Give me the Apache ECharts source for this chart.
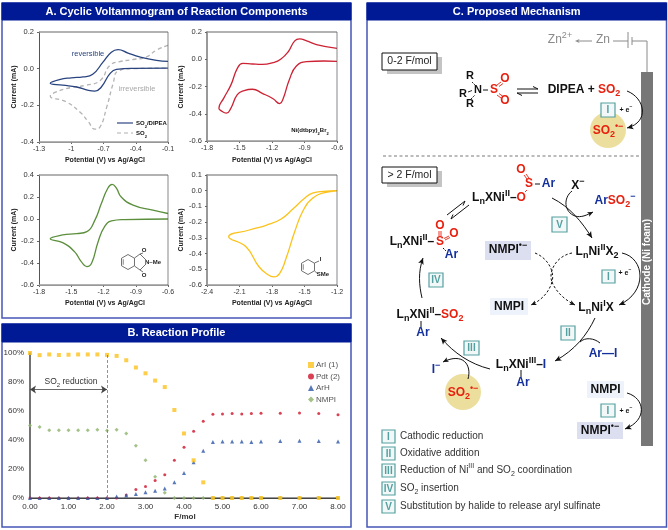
<!DOCTYPE html>
<html><head><meta charset="utf-8">
<style>html,body{margin:0;padding:0;background:#fff}#c{width:668px;height:530px}</style>
<script src="https://cdn.jsdelivr.net/npm/echarts@6/dist/echarts.min.js"></script>
</head><body><div id="c"></div>
<script>
// ---------- data ----------
const so2Dipea = [[-0.1,0.04],[-0.208,0.045],[-0.364,0.064],[-0.472,0.085],[-0.565,0.104],[-0.627,0.09],[-0.705,0.036],[-0.8,-0.03],[-0.89,-0.045],[-1.0,-0.05],[-1.11,-0.06],[-1.195,-0.08],[-1.08,-0.09],[-0.95,-0.1],[-0.84,-0.118],[-0.78,-0.122],[-0.72,-0.1],[-0.64,-0.027],[-0.58,-0.004],[-0.425,0.002],[-0.1,0.003]];
const so2Only = [[-0.1,0.127],[-0.21,0.1],[-0.3,0.064],[-0.425,0.05],[-0.55,0.038],[-0.64,0.018],[-0.73,-0.064],[-0.86,-0.09],[-1.01,-0.104],[-1.14,-0.127],[-1.195,-0.15],[-1.05,-0.18],[-0.92,-0.236],[-0.84,-0.29],[-0.78,-0.33],[-0.735,-0.32],[-0.67,-0.21],[-0.61,-0.08],[-0.565,-0.013],[-0.425,0],[-0.1,0.003]];
const niCurve = [[-0.6,0.08],[-0.79,0.108],[-0.88,0.135],[-0.945,0.149],[-0.99,0.135],[-1.05,0.055],[-1.12,0],[-1.19,-0.025],[-1.29,-0.038],[-1.38,-0.035],[-1.47,-0.03],[-1.52,-0.067],[-1.58,-0.19],[-1.645,-0.285],[-1.69,-0.36],[-1.675,-0.375],[-1.62,-0.396],[-1.58,-0.36],[-1.52,-0.26],[-1.457,-0.23],[-1.38,-0.22],[-1.29,-0.25],[-1.19,-0.29],[-1.13,-0.325],[-1.1,-0.295],[-1.04,-0.15],[-0.975,-0.05],[-0.88,-0.018],[-0.72,-0.013],[-0.6,-0.015]];
const nmpiCurve = [[-0.6,0.05],[-0.74,0.08],[-0.925,0.127],[-1.035,0.2],[-1.08,0.28],[-1.12,0.315],[-1.16,0.28],[-1.22,0.14],[-1.28,-0.01],[-1.355,-0.115],[-1.45,-0.133],[-1.58,-0.145],[-1.695,-0.18],[-1.58,-0.215],[-1.47,-0.297],[-1.405,-0.39],[-1.355,-0.433],[-1.31,-0.4],[-1.25,-0.206],[-1.19,-0.07],[-1.125,-0.018],[-1.01,-0.006],[-0.6,0]];
const arylCurve = [[-1.2,0],[-1.325,-0.004],[-1.42,-0.013],[-1.51,-0.055],[-1.6,-0.112],[-1.715,-0.18],[-1.855,-0.22],[-2.01,-0.25],[-2.2,-0.293],[-2.04,-0.357],[-1.92,-0.484],[-1.84,-0.533],[-1.785,-0.548],[-1.73,-0.527],[-1.67,-0.43],[-1.59,-0.26],[-1.51,-0.123],[-1.42,-0.045],[-1.325,-0.013],[-1.2,-0.002]];

const xTicksA1 = [-1.3,-1,-0.7,-0.4,-0.1];
const xTicksA2 = [-1.8,-1.5,-1.2,-0.9,-0.6];
const xTicksA4 = [-2.4,-2.1,-1.8,-1.5,-1.2];
const yTicksA1 = [-0.4,-0.2,0,0.2];
const yTicksA2 = [-0.6,-0.4,-0.2,0,0.2];
const yTicksA3 = [-0.6,-0.4,-0.2,0,0.2,0.4];
const yTicksA4 = [-0.6,-0.5,-0.4,-0.3,-0.2,-0.1,0,0.1];

const fMol = [0,0.25,0.5,0.75,1,1.25,1.5,1.75,2,2.25,2.5,2.75,3,3.25,3.5,3.75,4,4.25,4.5,4.75,5,5.25,5.5,5.75,6,6.5,7,7.5,8];
const arI  = [100,98.5,99,98.6,98.8,99,99,99,98.7,98,95,90,86,81,76.5,60.7,44.5,26,10.8,0,0,0,0,0,0,0,0,0,0];
const pdt  = [0,0,0,0,0,0,0,0,0,0,2,5.8,8,12,16,26,35,46,53,57.7,58,58.2,58,58.2,58.4,58.4,58.6,58.2,57.5];
const arH  = [0,0,0,0,0,0,0,0,0,1,1.8,2.8,4,5,6.5,10.9,17.3,24.7,32.6,38.6,39,39,39,38.6,39,39.3,39.5,39.3,39];
const nmpi = [50,49,46.8,46.8,46.8,46.8,46.8,47,46.5,47,44.5,36,26,14.7,3.7,0,0,0,0,0,0,0,0,0,0,0,0,0,0];
const so2Window = 2;
const arrowLevel = 74.8;

// ---------- helpers ----------
const FONT = '"Liberation Sans", Arial, sans-serif';
const NAVY='#001a96', EDGE='#4657b8', TEAL='#54a0a0', RED='#e8200f', BLUE='#14309c';
const G = [];
function rich(fs, weight){
  const r={}; const cols={k:'#111',r:RED,b:BLUE,g:'#8a8a8a',d:'#333'};
  for(const c in cols){
    const base={fill:cols[c],fontFamily:FONT,fontWeight:weight};
    r[c]=Object.assign({},base,{fontSize:fs,lineHeight:fs+5});
    r[c+'s']=Object.assign({},base,{fontSize:Math.round(fs*0.72),verticalAlign:'bottom',lineHeight:fs+5});
    r[c+'p']=Object.assign({},base,{fontSize:Math.round(fs*0.72),verticalAlign:'top',lineHeight:fs+5});
  }
  return r;
}
function T(x,y,text,o){
  o=o||{};
  G.push({type:'text',x:x,y:y,rotation:o.rot||0,z:o.z||20,style:{text:text,fontFamily:FONT,fontSize:o.fs||9,fontWeight:o.w||'normal',fill:o.c||'#222',align:o.a||'center',verticalAlign:'middle',rich:o.rich}});
}
function C(x,y,text,fs,o){ o=Object.assign({fs:fs||12,w:'bold',rich:rich(fs||12,(o&&o.w)||'bold')},o||{}); T(x,y,text,o); }
function R(x,y,w,h,fill,stroke,lw,z){ G.push({type:'rect',z:z||5,shape:{x:x,y:y,width:w,height:h},style:{fill:fill,stroke:stroke||'none',lineWidth:lw||0}}); }
function L(pts,o){ o=o||{}; G.push({type:'polyline',z:o.z||10,shape:{points:pts},style:{fill:'none',stroke:o.c||'#111',lineWidth:o.lw||1,lineDash:o.dash}}); }
function head(tip,from,c,s){
  s=s||6; const a=Math.atan2(tip[1]-from[1],tip[0]-from[0]);
  const p=(d,ang)=>[tip[0]+d*Math.cos(a+ang),tip[1]+d*Math.sin(a+ang)];
  G.push({type:'polygon',z:12,shape:{points:[tip,p(s,Math.PI-0.42),p(s*0.7,Math.PI),p(s,Math.PI+0.42)]},style:{fill:c||'#111',stroke:'none'}});
}
function B(p0,c1,c2,p1,o){ o=o||{};
  G.push({type:'bezierCurve',z:11,shape:{x1:p0[0],y1:p0[1],cpx1:c1[0],cpy1:c1[1],cpx2:c2[0],cpy2:c2[1],x2:p1[0],y2:p1[1]},style:{fill:'none',stroke:o.c||'#111',lineWidth:o.lw||1,lineDash:o.dash}});
  if(o.arrow!==false) head(p1,c2,o.c,o.s);
}
function numeral(x,y,w,h,t){ R(x,y,w,h,'#f2f8f8',TEAL,1.2,14); T(x+w/2,y+h/2+0.5,t,{fs:10,w:'bold',c:TEAL}); }
function panel(x,y,w,h,title,hh){
  R(x,y,w,h,'none',EDGE,1.5,1);
  R(x,y,w,hh||17,NAVY,NAVY,1,2);
  T(x+w/2,y+9,title,{fs:11,w:'bold',c:'#fff'});
}
function shadowBox(x,y,w,h,t){ R(x+5,y+4,w,h,'#c4c4c4',null,0,6); R(x,y,w,h,'#fff','#111',1,7); T(x+w/2,y+h/2,t,{fs:10.5,c:'#222'}); }

// ---------- panels ----------
panel(2,3,349,315,'A. Cyclic Voltammogram of Reaction Components');
panel(2,324,349,203,'B. Reaction Profile',18);
panel(367,3,299.5,524,'C. Proposed Mechanism');

// ---------- A labels ----------
const AX='Potential (V) vs Ag/AgCl';
[[105,160],[272,160],[105,303],[272,303]].forEach(p=>T(p[0],p[1],AX,{fs:7,w:'bold',c:'#222'}));
[[14,87],[181,87],[14,230],[181,230]].forEach(p=>T(p[0],p[1],'Current (mA)',{fs:7,w:'bold',c:'#222',rot:Math.PI/2}));
T(88,54,'reversible',{fs:7.5,c:'#2a4480'});
T(137,89,'irreversible',{fs:7.5,c:'#a8a8a8'});
L([[117,123],[133,123]],{c:'#2a4480',lw:1.2});
L([[117,133],[133,133]],{c:'#b0b0b0',lw:1.2,dash:[4,3]});
C(136,123,'{k|SO}{ks|2}{k|/DIPEA}',6,{a:'left'});
C(136,133,'{k|SO}{ks|2}',6,{a:'left'});
C(310,130,'{k|Ni(dtbpy)}{ks|2}{k|Br}{ks|2}',6);

// phthalimide sketch
function ring(cx,cy,r,start){const p=[];for(let i=0;i<6;i++){const a=start+i*Math.PI/3;p.push([cx+r*Math.cos(a),cy+r*Math.sin(a)]);}p.push(p[0]);return p;}
L(ring(128,262,7.5,Math.PI/6),{lw:0.7,c:'#333'});
L(ring(128,262,5.5,Math.PI/6).slice(2,4),{lw:0.6,c:'#333'});
L([[134.5,258],[140,254],[146,260]],{lw:0.7,c:'#333'});
L([[134.5,266],[140,270],[146,264]],{lw:0.7,c:'#333'});
L([[140,254],[143,253]],{lw:0.7,c:'#333'});
L([[140,270],[143,272]],{lw:0.7,c:'#333'});
T(144,250,'O',{fs:6,w:'bold',c:'#222'});
T(144,275,'O',{fs:6,w:'bold',c:'#222'});
T(153,262,'N\u2013Me',{fs:6,w:'bold',c:'#222'});
// aryl iodide sketch
L(ring(308,267,7.5,Math.PI/6),{lw:0.7,c:'#333'});
L(ring(308,267,5.5,Math.PI/6).slice(2,4),{lw:0.6,c:'#333'});
L([[314.5,263],[319,261]],{lw:0.7,c:'#333'});
L([[314.5,271],[318,274]],{lw:0.7,c:'#333'});
T(320.5,259,'I',{fs:6,w:'bold',c:'#222'});
T(323,274,'SMe',{fs:6,w:'bold',c:'#222'});

// ---------- B labels ----------
T(185,517,'F/mol',{fs:8,w:'bold',c:'#333'});
C(71,382,'{d|SO}{ds|2}{d| reduction}',8.5,{w:'normal'});

// ---------- C: electrode ----------
R(641,72,12,374,'#777');
T(647,262,'Cathode (Ni foam)',{fs:10,w:'bold',c:'#fff',rot:Math.PI/2});
C(560,40,'{g|Zn}{gp|2+}',12,{w:'normal'});
L([[592,41],[579,41]],{c:'#8a8a8a'}); head([575,41],[592,41],'#8a8a8a',5);
T(603,40,'Zn',{fs:12,c:'#8a8a8a'});
L([[613,41],[628,41]],{c:'#8a8a8a'});
L([[628,32],[628,48]],{c:'#8a8a8a'});
L([[632,37],[632,45]],{c:'#8a8a8a'});
L([[632,41],[647,41],[647,72]],{c:'#8a8a8a'});
shadowBox(382,53,55,17,'0-2 F/mol');
shadowBox(382,167,55,16,'> 2 F/mol');
L([[383,156],[641,156]],{c:'#555',lw:0.8,dash:[3,2.5]});

// sulfamoyl adduct
const BF=12;
function bt(x,y,t,c){T(x,y,t,{fs:BF,w:'bold',c:c});}
T(470,76,'R',{fs:11,w:'bold',c:'#111'});T(463,94,'R',{fs:11,w:'bold',c:'#111'});T(470,104,'R',{fs:11,w:'bold',c:'#111'});
T(478,90,'N',{fs:11,w:'bold',c:'#111'});
L([[472,82],[475,85]],{lw:0.9,dash:[2,1]});L([[468,92],[472,90.5]],{lw:0.9});L([[471,99],[475,95]],{lw:0.9,dash:[2,1]});
L([[483,90],[488,90]],{lw:1});
bt(494,90,'S',RED);bt(505,79,'O',RED);bt(505,101,'O',RED);
L([[497,85],[501,82]],{c:RED,lw:0.9});L([[499,86.5],[503,83.5]],{c:RED,lw:0.9});
L([[497,95],[501,98]],{c:RED,lw:0.9});L([[499,93.5],[503,96.5]],{c:RED,lw:0.9});
L([[517,89],[538,89],[533,86.5]],{lw:1});L([[538,93],[517,93],[522,95.5]],{lw:1});
C(584,90,'{k|DIPEA + }{r|SO}{rs|2}',12);
B([627,91],[645,98],[650,122],[627,128],{s:7});
numeral(601,103,14,14,'I');
C(626,110,'{k|+ e}{kp|\u2212}',7);
G.push({type:'circle',z:4,shape:{cx:608,cy:130,r:18},style:{fill:'#ecdf9e'}});
C(608,131,'{r|SO}{rs|2}{rp|\u2022\u2212}',12);

// top catalytic part
C(499,198,'{k|L}{ks|n}{k|XNi}{kp|II}{k|\u2013}{r|O}',12);
bt(529,184,'S',RED);bt(521,170,'O',RED);
L([[524,175],[527,179]],{c:RED,lw:0.9});L([[526,174],[529,178]],{c:RED,lw:0.9});
L([[527,190],[525,192]],{c:RED,lw:0.9});
L([[535,184],[540,184]],{lw:1});
bt(548.5,184,'Ar',BLUE);
L([[447,215],[465,201],[463,205.5]],{lw:1});L([[469,205],[451,219],[453,214.5]],{lw:1});
C(578,186,'{k|X}{kp|\u2212}',12);
C(615,201,'{b|Ar}{r|SO}{rs|2}{bp|\u2212}',12);
C(597,252,'{k|L}{ks|n}{k|Ni}{kp|II}{k|X}{ks|2}',12);

// left complex
C(412,242,'{k|L}{ks|n}{k|XNi}{kp|II}{k|\u2013}',12);
bt(440,242,'S',RED);bt(440,226,'O',RED);bt(454,234,'O',RED);
L([[439,231],[439,236]],{c:RED,lw:0.9});L([[441,231],[441,236]],{c:RED,lw:0.9});
L([[444,238.5],[449,236]],{c:RED,lw:0.9});L([[445,240],[450,237.5]],{c:RED,lw:0.9});
L([[443,248],[446,251]],{lw:1,dash:[2,1]});
bt(451.5,255,'Ar',BLUE);

C(430,315,'{k|L}{ks|n}{k|XNi}{kp|II}{k|\u2013}{r|SO}{rs|2}',12);
L([[421,321],[421,327]],{lw:1});
bt(423,333,'Ar',BLUE);
C(521,365,'{k|L}{ks|n}{k|XNi}{kp|III}{k|\u2013}{b|I}',12);
L([[521,370],[521,377]],{lw:1});
bt(523,383,'Ar',BLUE);
C(596,308,'{k|L}{ks|n}{k|Ni}{kp|I}{k|X}',12);
bt(603,354,'Ar\u2014I',BLUE);

// NMPI boxes
R(485,241,46,19,'#dcdff0');C(508,250,'{k|NMPI}{kp|\u2022\u2212}',12);
R(490,298,38,17,'#eef2fb');bt(509,306.5,'NMPI','#111');
R(587,381,37,17,'#eef2fb');bt(605.5,389.5,'NMPI','#111');
R(577,422,46,17,'#dcdff0');C(600,430.5,'{k|NMPI}{kp|\u2022\u2212}',12);

// arrows
B([422,298],[419,285],[418,272],[423,258],{s:7});
numeral(429,273,14,14,'IV');
B([552,198],[570,207],[582,222],[592,238],{s:7});
B([572,191],[563,198],[564,212],[575,216],{arrow:false});
B([575,216],[581,218],[587,215],[593,212],{s:6});
numeral(552,217,15,15,'V');
B([572,253],[556,256],[548,272],[552,282],{arrow:false,dash:[2.5,2],lw:1});
B([552,282],[556,292],[565,300],[575,305],{dash:[2.5,2],s:6});
B([535,253],[548,258],[555,272],[552,282],{arrow:false,dash:[2.5,2],lw:1});
B([552,282],[549,292],[542,300],[531,305],{dash:[2.5,2],s:6});
B([622,253],[645,258],[648,292],[619,305],{s:7});
numeral(602,270,13,13,'I');
C(625,273,'{k|+ e}{kp|\u2212}',7);
B([595,318],[587,335],[575,350],[555,361],{s:7});
B([600,343],[594,338],[585,337],[580,342],{arrow:false});
numeral(561,326,14,14,'II');
B([490,369],[470,364],[454,353],[441,338],{s:7});
numeral(464,341,15,14,'III');
B([468,379],[472,365],[463,352],[443,362],{s:6});
C(436,370,'{b|I}{bp|\u2212}',12);
G.push({type:'circle',z:4,shape:{cx:463,cy:392,r:18},style:{fill:'#ecdf9e'}});
C(463,393,'{r|SO}{rs|2}{rp|\u2022\u2212}',12);
B([627,393],[645,398],[648,420],[625,429],{s:7});
numeral(601,404,14,13,'I');
C(626,411,'{k|+ e}{kp|\u2212}',7);

// numerals legend
const legendRows=[[430,'I','{d|Cathodic reduction}'],[447,'II','{d|Oxidative addition}'],[464,'III','{d|Reduction of Ni}{dp|III}{d| and SO}{ds|2}{d| coordination}'],[482,'IV','{d|SO}{ds|2}{d| insertion}'],[500,'V','{d|Substitution by halide to release aryl sulfinate}']];
legendRows.forEach(r=>{numeral(382,r[0],13,13,r[1]);C(400,r[0]+6.5,r[2],10,{a:'left',w:'normal'});});

// grid borders for the CV plots
const boxes=[[39,32,129,110],[207,32,130,109],[39,175,129,110],[207,175,130,110]];
boxes.forEach(b=>{L([[b[0],b[1]],[b[0]+b[2],b[1]]],{c:'#999',lw:1.5,z:15});L([[b[0],b[1]+b[3]],[b[0]+b[2],b[1]+b[3]]],{c:'#999',lw:1.5,z:15});L([[b[0]+b[2],b[1]],[b[0]+b[2],b[1]+b[3]]],{c:'#555',lw:0.7,z:15});});

// ---------- charts ----------
function xAxis(i,ticks){return {gridIndex:i,type:'value',min:ticks[0],max:ticks[ticks.length-1],splitLine:{show:false},
  axisLine:{onZero:false,lineStyle:{color:'#999',width:1}},axisTick:{show:true,customValues:ticks,length:2,inside:false,lineStyle:{color:'#666'}},
  axisLabel:{customValues:ticks,fontSize:7,color:'#333',fontFamily:FONT,margin:4,showMinLabel:true,showMaxLabel:true}};}
function yAxis(i,ticks,leftColor){return {gridIndex:i,type:'value',min:ticks[0],max:ticks[ticks.length-1],splitLine:{show:false},
  axisLine:{onZero:false,lineStyle:{color:leftColor,width:leftColor==='#999'?2:1}},axisTick:{show:true,customValues:ticks,length:2,lineStyle:{color:'#666'}},
  axisLabel:{customValues:ticks,fontSize:7.5,color:'#333',fontFamily:FONT,margin:5,formatter:v=>Number(v).toFixed(1),showMinLabel:true,showMaxLabel:true}};}
function cv(i,name,data,color,dash){return {name:name,type:'line',xAxisIndex:i,yAxisIndex:i,data:data,smooth:0.5,showSymbol:false,symbol:'none',clip:false,silent:true,z:3,
  lineStyle:{color:color,width:1.3,type:dash?[4,3]:'solid'}};}
function pts(name,ys,symbol,size,color,extra){return Object.assign({name:name,type:'scatter',xAxisIndex:4,yAxisIndex:4,symbol:symbol,symbolSize:size,clip:false,silent:true,
  itemStyle:{color:color},data:fMol.map((x,k)=>[x,ys[k]])},extra||{});}

const chart=echarts.init(document.getElementById('c'),null,{renderer:'canvas'});
chart.setOption({
  animation:false,backgroundColor:'#fff',
  textStyle:{fontFamily:FONT},
  grid:[
    {left:39,top:32,width:129,height:110},
    {left:207,top:32,width:130,height:109},
    {left:39,top:175,width:129,height:110},
    {left:207,top:175,width:130,height:110},
    {left:30,top:353,width:308,height:145}
  ],
  xAxis:[xAxis(0,xTicksA1),xAxis(1,xTicksA2),xAxis(2,xTicksA2),xAxis(3,xTicksA4),
    {gridIndex:4,type:'value',min:0,max:8,interval:1,splitLine:{show:false},axisLine:{onZero:false,lineStyle:{color:'#999',width:2}},axisTick:{show:false},
     axisLabel:{fontSize:8,color:'#333',fontFamily:FONT,margin:5,formatter:v=>v.toFixed(2)}},
    {gridIndex:4,type:'value',position:'top',min:0,max:8,show:true,splitLine:{show:false},axisLine:{lineStyle:{color:'#444',width:1}},axisTick:{show:false},axisLabel:{show:false}}],
  yAxis:[yAxis(0,yTicksA1,'#555'),yAxis(1,yTicksA2,'#999'),yAxis(2,yTicksA3,'#555'),yAxis(3,yTicksA4,'#999'),
    {gridIndex:4,type:'value',min:0,max:100,interval:20,splitLine:{show:false},axisLine:{onZero:false,lineStyle:{color:'#444',width:1.5}},axisTick:{show:false},
     axisLabel:{fontSize:8,color:'#333',fontFamily:FONT,margin:6,formatter:'{value}%'}}],
  legend:{orient:'vertical',left:303,top:356,itemWidth:6,itemHeight:6,itemGap:3.5,data:['ArI (1)','Pdt (2)','ArH','NMPI'],
    textStyle:{fontSize:8,color:'#555',fontFamily:FONT,padding:[0,0,0,-3]},selectedMode:false},
  series:[
    cv(0,'SO2',so2Only,'#b4b4b4',true),
    cv(0,'SO2/DIPEA',so2Dipea,'#2a4480',false),
    cv(1,'Ni',niCurve,'#cc2233',false),
    cv(2,'NMPI CV',nmpiCurve,'#5b8f3c',false),
    cv(3,'ArI CV',arylCurve,'#fcc21c',false),
    pts('Pdt (2)',pdt,'circle',3,'#d0122a',{markLine:{silent:true,symbol:'none',label:{show:false},lineStyle:{color:'#777',type:[3,2],width:0.8},data:[[{coord:[so2Window,0]},{coord:[so2Window,100]}]]}}),
    pts('ArH',arH,'triangle',4,'#2d56a8',{markLine:{silent:true,symbol:['arrow','arrow'],symbolSize:6,label:{show:false},lineStyle:{color:'#444',type:'solid',width:0.8},data:[[{coord:[0,arrowLevel]},{coord:[so2Window,arrowLevel]}]]}}),
    pts('NMPI',nmpi,'diamond',4,'#8db36a'),
    pts('ArI (1)',arI,'rect',4,'#fcc21c')
  ],
  graphic:{elements:G}
});
</script></body></html>
